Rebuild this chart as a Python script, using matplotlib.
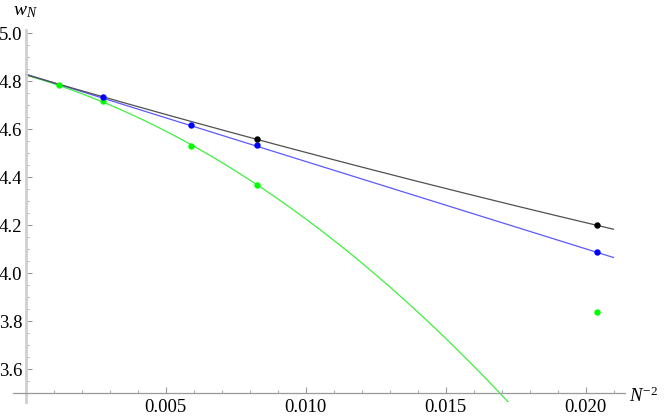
import numpy as np
import matplotlib

matplotlib.use("Agg")
import matplotlib.pyplot as plt
from matplotlib.ticker import FixedLocator

plt.rcParams["font.family"] = "serif"
plt.rcParams["font.serif"] = ["Liberation Serif", "Times New Roman", "DejaVu Serif"]
plt.rcParams["mathtext.fontset"] = "custom"
plt.rcParams["mathtext.rm"] = "Liberation Serif"
plt.rcParams["mathtext.it"] = "Liberation Serif:italic"

# data
green_n = [29, 19, 13, 11, 7]
green_w = [4.785, 4.717, 4.530, 4.369, 3.838]
blue_n = [19, 13, 11, 7]
blue_w = [4.733, 4.617, 4.533, 4.088]
black_n = [11, 7]
black_w = [4.558, 4.200]

# fitted curves w = a + b*x + c*x^2, x = N^-2
black_fit = [4.828, -33.99, 157.0]
blue_fit = [4.830, -36.4, 0.0]
green_fit = [4.826, -33.49, -2643.6]
fit_xmax = 0.02099

x_major = [0.005, 0.010, 0.015, 0.020]
x_labels = ["0.005", "0.010", "0.015", "0.020"]
y_major = [3.6, 3.8, 4.0, 4.2, 4.4, 4.6, 4.8, 5.0]
y_labels = ["3.6", "3.8", "4.0", "4.2", "4.4", "4.6", "4.8", "5.0"]


def inv_sq(ns):
    return 1.0 / np.asarray(ns, dtype=float) ** 2


def poly(coef, x):
    return coef[0] + coef[1] * x + coef[2] * x ** 2


W, H = 664, 417
fig = plt.figure(figsize=(W / 100, H / 100), dpi=100)
ax = fig.add_axes([13.1 / W, (H - 402.2) / H, 611.8 / W, (402.2 - 29.7) / H])
ax.set_xlim(-0.00045, 0.0214)
ax.set_ylim(3.463, 5.015)

xs = np.linspace(0, fit_xmax, 300)
ax.plot(xs, poly(green_fit, xs), color="#3ef03e", lw=0.9, zorder=2)
ax.plot(xs, poly(blue_fit, xs), color="#5a5aff", lw=0.9, zorder=2)
ax.plot(xs, poly(black_fit, xs), color="#505050", lw=0.9, zorder=2)

ms = 4.6
ax.plot(inv_sq(green_n), green_w, "o", color="#00ff00", ms=ms, mew=0, zorder=3)
ax.plot(inv_sq(blue_n), blue_w, "o", color="#0000ff", ms=ms, mew=0, zorder=4)
ax.plot(inv_sq(black_n), black_w, "o", color="black", ms=ms, mew=0, zorder=5)

# Mathematica-style axes crossing at (0, 3.5)
for s in ["top", "right"]:
    ax.spines[s].set_visible(False)
ax.spines["left"].set_position(("data", 0.0))
ax.spines["bottom"].set_position(("data", 3.5))
ax.spines["left"].set_color("#cfcfcf")
ax.spines["left"].set_linewidth(2.0)
ax.spines["bottom"].set_color("#9a9a9a")
ax.spines["bottom"].set_linewidth(0.9)

ax.set_xticks(x_major)
ax.set_xticklabels(x_labels)
ax.set_yticks(y_major)
ax.set_yticklabels(y_labels)
x_minor = [round(0.001 * k, 3) for k in range(1, 22) if k % 5 != 0]
y_minor = [round(3.55 + 0.05 * k, 2) for k in range(0, 30) if k % 4 != 1]
ax.xaxis.set_minor_locator(FixedLocator(x_minor))
ax.yaxis.set_minor_locator(FixedLocator(y_minor))
ax.tick_params(which="both", direction="in", color="#9a9a9a", labelsize=13.5,
               labelcolor="black")
ax.tick_params(which="major", length=4, width=0.8)
ax.tick_params(which="minor", length=2.5, width=0.6)
ax.tick_params(axis="x", pad=4)
ax.tick_params(axis="y", pad=2.5)

fig.text(12.7 / W, (H - 15) / H, r"$w_N$", fontsize=14, ha="left", va="baseline")
fig.text(629 / W, (H - 401.7) / H, r"$N^{-2}$", fontsize=13.5, ha="left",
         va="baseline")

fig.savefig("out.png", dpi=100)
